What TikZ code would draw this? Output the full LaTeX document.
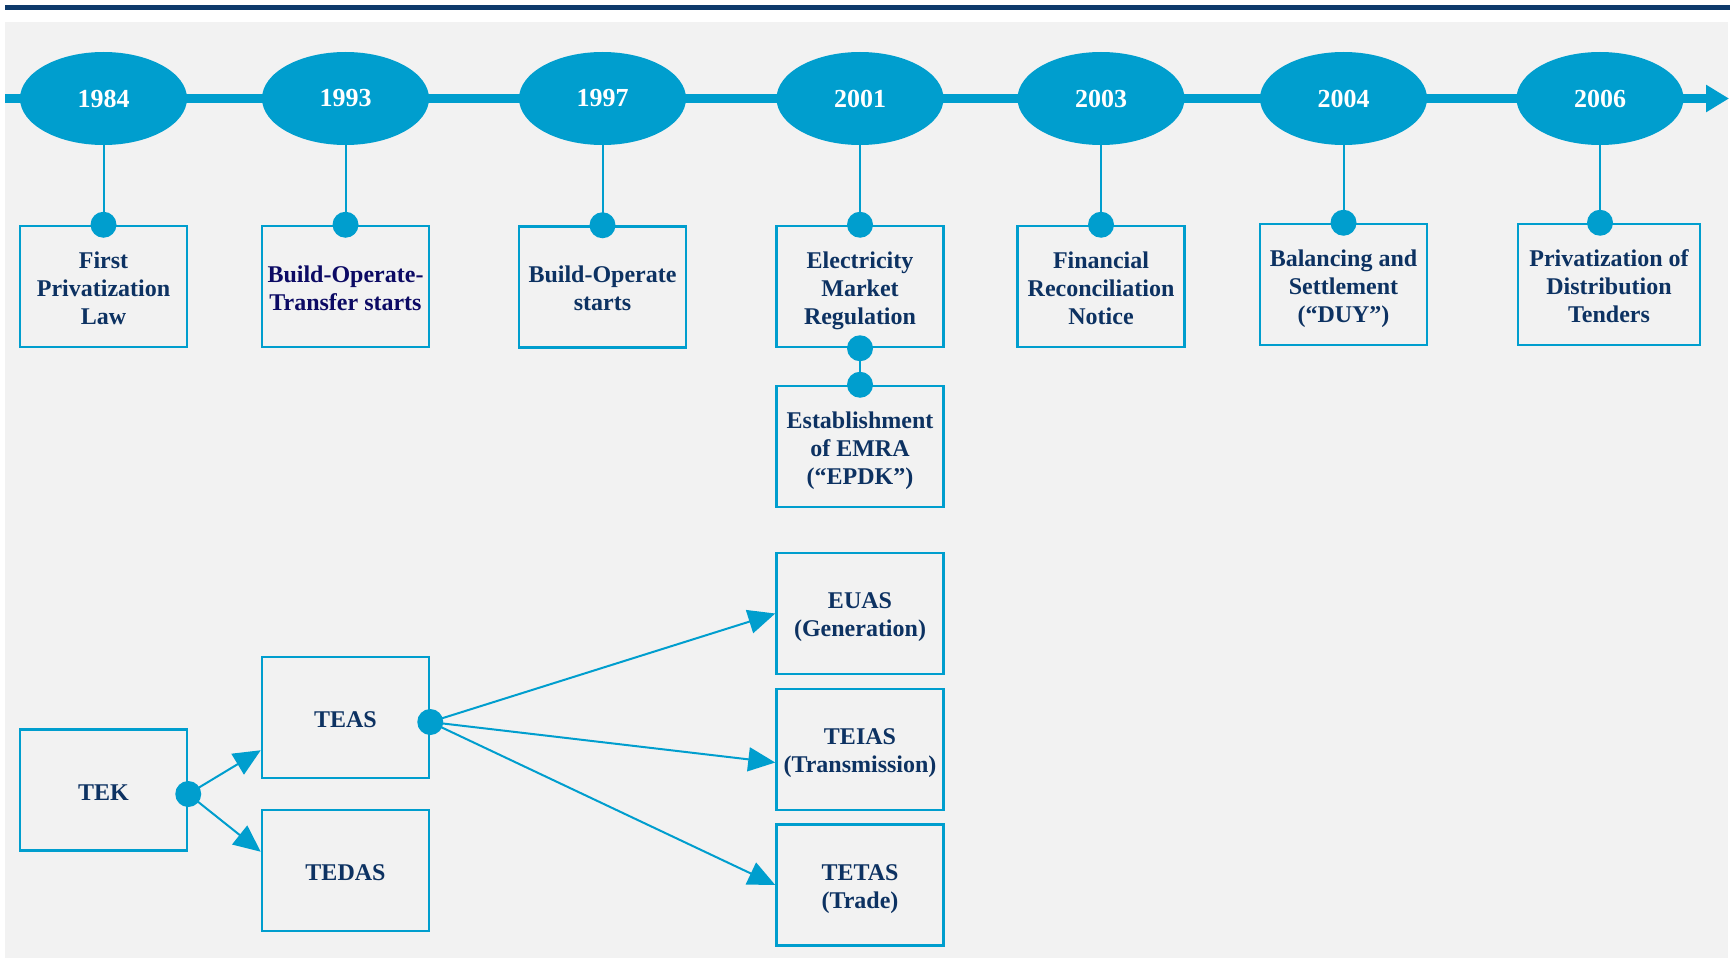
\documentclass[tikz,border=0pt]{standalone}
\usepackage{fontspec}
\setmainfont{Liberation Serif}
\usetikzlibrary{shapes.geometric,arrows.meta}
\definecolor{tblue}{RGB}{0,158,206}
\definecolor{tnavy}{RGB}{13,50,98}
\definecolor{tindigo}{RGB}{12,10,100}
\definecolor{tbg}{RGB}{242,242,242}
\definecolor{ttop}{RGB}{14,58,107}
\newcommand\myBotStrut{\rule[-5.2pt]{0pt}{5.2pt}}
\begin{document}
\begin{tikzpicture}[x=1pt,y=-1pt,
 yearnode/.style={ellipse, fill=tblue, minimum width=167pt, minimum height=93pt, inner sep=0pt, text=white, font=\fontsize{26}{30}\selectfont\bfseries},
 evbox/.style={rectangle, draw=tblue, line width=2.5pt, minimum width=167pt, minimum height=121pt, inner sep=0pt},
 onetext/.style={inner sep=0pt, align=center, text=tnavy, font=\fontsize{24}{28}\selectfont\bfseries, yshift=-2.2pt},
 evtext/.style={inner sep=0pt, align=center, text=tnavy, font=\fontsize{24}{28}\selectfont\bfseries, yshift=-4pt, execute at end node=\myBotStrut},
 dotnode/.style={circle, fill=tblue, minimum size=26pt, inner sep=0pt},
 stem/.style={draw=tblue, line width=2pt},
 flow/.style={draw=tblue, line width=2pt, -{Triangle[length=27pt,width=24pt]}},
]
\useasboundingbox (0,0) rectangle (1733,958);
\fill[tbg] (5,22) rectangle (1728,958);
\coordinate (topA) at (5,7.5);
\coordinate (topB) at (1730,7.5);
\draw[ttop, line width=5pt] (topA) -- (topB);
\coordinate (tlA) at (5,98.5);
\coordinate (tlB) at (1729,98.5);
\draw[tblue, line width=8pt, -{Triangle[length=23pt,width=26pt]}] (tlA) -- (tlB);

% years
\node[yearnode] (y1) at (103.5,98.5) {1984};
\node[yearnode] (y2) at (345.5,98.5) {1993};
\node[yearnode] (y3) at (602.5,98.5) {1997};
\node[yearnode] (y4) at (860,98.5) {2001};
\node[yearnode] (y5) at (1101,98.5) {2003};
\node[yearnode] (y6) at (1343.5,98.5) {2004};
\node[yearnode] (y7) at (1600,98.5) {2006};

% event boxes
\node[evbox] (b1) at (103.5,286.5) {};
\node[evbox] (b2) at (345.5,286.5) {};
\node[evbox] (b3) at (602.5,287) {};
\node[evbox] (b4) at (860,286.5) {};
\node[evbox] (b5) at (1101,286.5) {};
\node[evbox] (b6) at (1343.5,284.5) {};
\node[evbox, minimum width=182pt] (b7) at (1609,284.5) {};
\node[evbox] (b8) at (860,446.5) {};
\node[evtext] (t1) at (b1.center) {First\\Privatization\\Law};
\node[evtext, text=tindigo] (t2) at (b2.center) {Build-Operate-\\Transfer starts};
\node[evtext] (t3) at (b3.center) {Build-Operate\\starts};
\node[evtext] (t4) at (b4.center) {Electricity\\Market\\Regulation};
\node[evtext] (t5) at (b5.center) {Financial\\Reconciliation\\Notice};
\node[evtext] (t6) at (b6.center) {Balancing and\\Settlement\\(“DUY”)};
\node[evtext] (t7) at (b7.center) {Privatization of\\Distribution\\Tenders};
\node[evtext] (t8) at (b8.center) {Establishment\\of EMRA\\(“EPDK”)};

% stems
\draw[stem] (y1.south) -- (b1.north);
\draw[stem] (y2.south) -- (b2.north);
\draw[stem] (y3.south) -- (b3.north);
\draw[stem] (y4.south) -- (b4.north);
\draw[stem] (y5.south) -- (b5.north);
\draw[stem] (y6.south) -- (b6.north);
\draw[stem] (y7.south) -- (y7.south |- b7.north) coordinate (d7);
\node[dotnode] (p1) at (b1.north) {};
\node[dotnode] (p2) at (b2.north) {};
\node[dotnode] (p3) at (b3.north) {};
\node[dotnode] (p4) at (b4.north) {};
\node[dotnode] (p5) at (b5.north) {};
\node[dotnode] (p6) at (b6.north) {};
\node[dotnode] (p7) at (d7) {};
\node[dotnode] (p4b) at (b4.south) {};
\node[dotnode] (p8) at (b8.north) {};
\draw[stem] (p4b) -- (p8);

% bottom structure
\node[evbox] (tek) at (103.5,790) {};
\node[evbox] (teas) at (345.5,717.5) {};
\node[evbox] (tedas) at (345.5,870.5) {};
\node[evbox] (euas) at (860,613.5) {};
\node[evbox] (teias) at (860,749.5) {};
\node[evbox] (tetas) at (860,885) {};
\node[onetext] (ttek) at (tek.center) {TEK};
\node[onetext] (tteas) at (teas.center) {TEAS};
\node[onetext] (ttedas) at (tedas.center) {TEDAS};
\node[evtext] (teuas) at (euas.center) {EUAS\\(Generation)};
\node[evtext] (tteias) at (teias.center) {TEIAS\\(Transmission)};
\node[evtext] (ttetas) at (tetas.center) {TETAS\\(Trade)};

\node[dotnode] (dk) at ([yshift=-4pt]tek.east) {};
\node[dotnode] (da) at ([yshift=-4.5pt]teas.east) {};
\draw[flow] (dk.center) -- ([yshift=29pt]teas.south west);
\draw[flow] (dk.center) -- ([yshift=-43pt]tedas.north west);
\draw[flow] (da.center) -- (euas.west);
\draw[flow] (da.center) -- ([yshift=-13pt]teias.west);
\draw[flow] (da.center) -- (tetas.west);
\end{tikzpicture}
\end{document}
